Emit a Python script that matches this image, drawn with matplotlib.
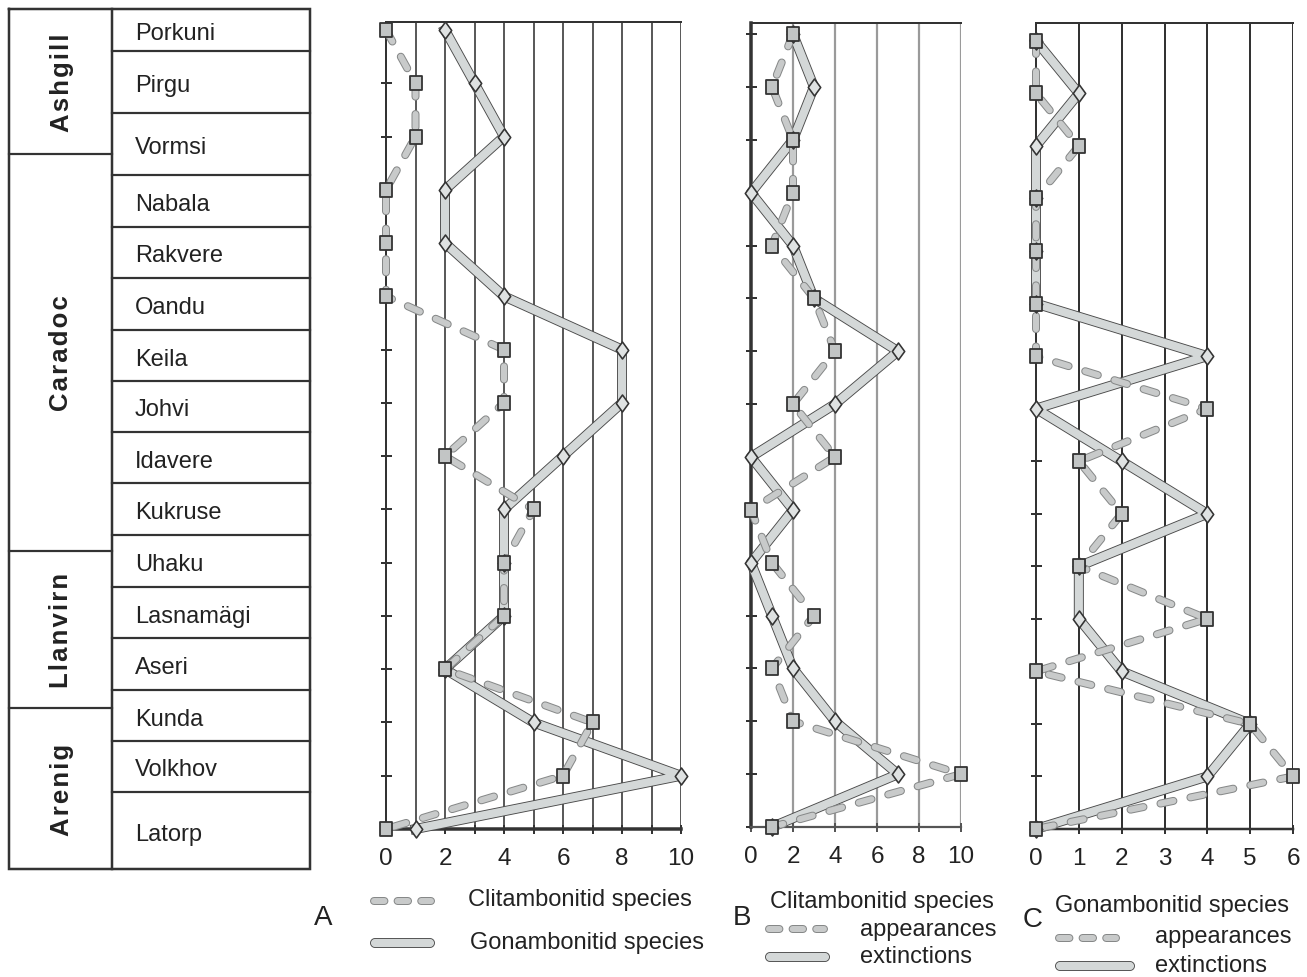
import matplotlib
matplotlib.use('Agg')
import matplotlib.pyplot as plt
import matplotlib.patheffects as pe
from matplotlib.path import Path
from matplotlib import font_manager as fm

# stages, top (youngest) to bottom (oldest)
stages = ['Porkuni', 'Pirgu', 'Vormsi', 'Nabala', 'Rakvere', 'Oandu', 'Keila', 'Johvi',
          'Idavere', 'Kukruse', 'Uhaku', 'Lasnamägi', 'Aseri', 'Kunda', 'Volkhov', 'Latorp']
series = ['Ashgill', 'Caradoc', 'Llanvirn', 'Arenig']

# panel A: number of species
a_clit = [0, 1, 1, 0, 0, 0, 4, 4, 2, 5, 4, 4, 2, 7, 6, 0]
a_gon = [2, 3, 4, 2, 2, 4, 8, 8, 6, 4, 4, 4, 2, 5, 10, 1]
# panel B: Clitambonitid appearances / extinctions
b_app = [2, 1, 2, 2, 1, 3, 4, 2, 4, 0, 1, 3, 1, 2, 10, 1]
b_ext = [2, 3, 2, 0, 2, 3, 7, 4, 0, 2, 0, 1, 2, 4, 7, 1]
# panel C: Gonambonitid appearances / extinctions
c_app = [0, 0, 1, 0, 0, 0, 0, 4, 1, 2, 1, 4, 0, 5, 6, 0]
c_ext = [0, 1, 0, 0, 0, 0, 4, 0, 2, 4, 1, 1, 2, 5, 4, 0]

# table layout (pixels)
W, H = 1307, 978
row_edges = [10, 52, 114, 176, 228, 279, 331, 382, 433, 484, 536, 588, 639, 691, 742, 793, 870]
series_edges = [10, 155, 552, 709, 870]

names = {f.name for f in fm.fontManager.ttflist}
if 'Liberation Sans Narrow' in names:
    LEG_FONT, LEG_SIZE = 'Liberation Sans Narrow', 21
else:
    LEG_FONT, LEG_SIZE = 'Liberation Sans', 17
plt.rcParams['font.family'] = ['Liberation Sans', 'DejaVu Sans']
plt.rcParams['lines.scale_dashes'] = False

DARK = '#333333'
PX = 0.72  # points per pixel at dpi 100

diamond = Path([(0, 1), (0.73, 0), (0, -1), (-0.73, 0), (0, 1)], closed=True)
rect = Path([(-0.39, -0.5), (0.39, -0.5), (0.39, 0.5), (-0.39, 0.5), (-0.39, -0.5)], closed=True)


def solid_band(ax, x, y, **kw):
    return ax.plot(x, y, color='#d4d8d8', lw=8.2 * PX, solid_joinstyle='round',
                   path_effects=[pe.Stroke(linewidth=10 * PX, foreground='#4a4a4a'), pe.Normal()],
                   **kw)


def dashed_band(ax, x, y, dashes=(9.5, 12.5), **kw):
    return ax.plot(x, y, color='#c8caca', lw=6 * PX, dashes=dashes, dash_capstyle='round',
                   path_effects=[pe.Stroke(linewidth=8 * PX, foreground='#868888'), pe.Normal()],
                   **kw)


def draw_panel(ax, dashed_vals, solid_vals, xmax, ytop, grid_ticks, label_ticks, grid_color,
               grid_lw, left_lw, bottom_lw, bottom_color):
    idx = list(range(len(stages)))
    solid_band(ax, solid_vals, idx, zorder=3, clip_on=False)
    dashed_band(ax, dashed_vals, idx, zorder=4, clip_on=False)
    ax.plot(solid_vals, idx, ls='none', marker=diamond, ms=17 * PX, mfc='#dfe2e2',
            mec=DARK, mew=1.6 * PX, zorder=5, clip_on=False)
    ax.plot(dashed_vals, idx, ls='none', marker=rect, ms=14.5 * PX, mfc='#c2c5c5',
            mec=DARK, mew=1.8 * PX, zorder=6, clip_on=False)

    ax.set_xlim(0, xmax)
    ax.set_ylim(len(stages) - 1, ytop)
    for g in grid_ticks:
        if g > 0:
            ax.axvline(g, color=grid_color, lw=grid_lw * PX, zorder=1)
    ax.spines['right'].set_visible(False)
    ax.spines['left'].set_linewidth(left_lw * PX)
    ax.spines['left'].set_color(DARK)
    ax.spines['top'].set_linewidth(2 * PX)
    ax.spines['top'].set_color(DARK)
    ax.spines['bottom'].set_linewidth(bottom_lw * PX)
    ax.spines['bottom'].set_color(bottom_color)

    ax.set_yticks(idx)
    ax.set_yticklabels([])
    ax.tick_params(axis='y', direction='inout', length=11 * PX, width=2 * PX, color=DARK)
    ax.set_xticks(grid_ticks)
    ax.set_xticklabels([str(t) if t in label_ticks else '' for t in grid_ticks])
    ax.tick_params(axis='x', direction='inout', length=9 * PX, width=2 * PX, color=bottom_color,
                   labelsize=17.5, labelcolor='#222222', pad=9.5)


fig = plt.figure(figsize=(W / 100, H / 100), dpi=100)

# overlay in pixel coordinates for the stage table and legends
ax0 = fig.add_axes([0, 0, 1, 1])
ax0.set_xlim(0, W)
ax0.set_ylim(H, 0)
ax0.axis('off')

x_left, x_mid, x_right = 9, 112, 310
ax0.plot([x_left, x_right, x_right, x_left, x_left],
         [row_edges[0], row_edges[0], row_edges[-1], row_edges[-1], row_edges[0]],
         color=DARK, lw=2.5 * PX, solid_joinstyle='miter')
ax0.plot([x_mid, x_mid], [row_edges[0], row_edges[-1]], color=DARK, lw=2.5 * PX)
for e in row_edges[1:-1]:
    ax0.plot([x_mid, x_right], [e, e], color=DARK, lw=2.2 * PX)
for e in series_edges[1:-1]:
    ax0.plot([x_left, x_mid], [e, e], color=DARK, lw=2.2 * PX)
for name, y0, y1 in zip(stages, row_edges[:-1], row_edges[1:]):
    ax0.text(135, (y0 + y1) / 2 + 3, name, fontsize=17, color='#222222', va='center', ha='left')
for name, y0, y1 in zip(series, series_edges[:-1], series_edges[1:]):
    ax0.text((x_left + x_mid) / 2 + 1, (y0 + y1) / 2, '\u200a'.join(name), fontsize=18.5,
             fontweight='bold', rotation=90, color='#222222', va='center', ha='center')

# data panels
axA = fig.add_axes([386 / W, (H - 830) / H, 295 / W, 807 / H])
draw_panel(axA, a_clit, a_gon, 10, -0.15, list(range(11)), [0, 2, 4, 6, 8, 10],
           DARK, 1.6, 2, 3.5, DARK)
axB = fig.add_axes([751 / W, (H - 828) / H, 210 / W, 804 / H])
draw_panel(axB, b_app, b_ext, 10, -0.21, [0, 2, 4, 6, 8, 10], [0, 2, 4, 6, 8, 10],
           '#9a9a9a', 2.2, 3.5, 2.2, '#555555')
axC = fig.add_axes([1036 / W, (H - 830) / H, 257 / W, 806 / H])
draw_panel(axC, c_app, c_ext, 6, -0.34, list(range(7)), list(range(7)),
           DARK, 2, 2, 2.5, DARK)


# legends
def legend_dash(x0, x1, y):
    dashed_band(ax0, [x0 + 4, x1 - 4], [y, y], dashes=(7.5, 9.5), solid_capstyle='round')


def legend_solid(x0, x1, y):
    ax0.plot([x0 + 5, x1 - 5], [y, y], color='#d4d8d8', lw=8.2 * PX, solid_capstyle='round',
             path_effects=[pe.Stroke(linewidth=10 * PX, foreground='#4a4a4a'), pe.Normal()])


leg = dict(fontsize=LEG_SIZE, family=[LEG_FONT, 'DejaVu Sans'], color='#222222', va='center')
big = dict(fontsize=LEG_SIZE + 3, family=[LEG_FONT, 'DejaVu Sans'], color='#222222',
           va='center', ha='center')

ax0.text(323, 918, 'A', **big)
legend_dash(370, 435, 902)
ax0.text(468, 900, 'Clitambonitid species', **leg)
legend_solid(370, 435, 944)
ax0.text(470, 943, 'Gonambonitid species', **leg)

ax0.text(742, 918, 'B', **big)
ax0.text(770, 902, 'Clitambonitid species', **leg)
legend_dash(765, 828, 930)
ax0.text(860, 930, 'appearances', **leg)
legend_solid(765, 830, 958)
ax0.text(860, 957, 'extinctions', **leg)

ax0.text(1033, 920, 'C', **big)
ax0.text(1055, 906, 'Gonambonitid species', **leg)
legend_dash(1055, 1120, 939)
ax0.text(1155, 937, 'appearances', **leg)
legend_solid(1055, 1135, 967)
ax0.text(1155, 966, 'extinctions', **leg)

fig.savefig('out.png', dpi=100)
